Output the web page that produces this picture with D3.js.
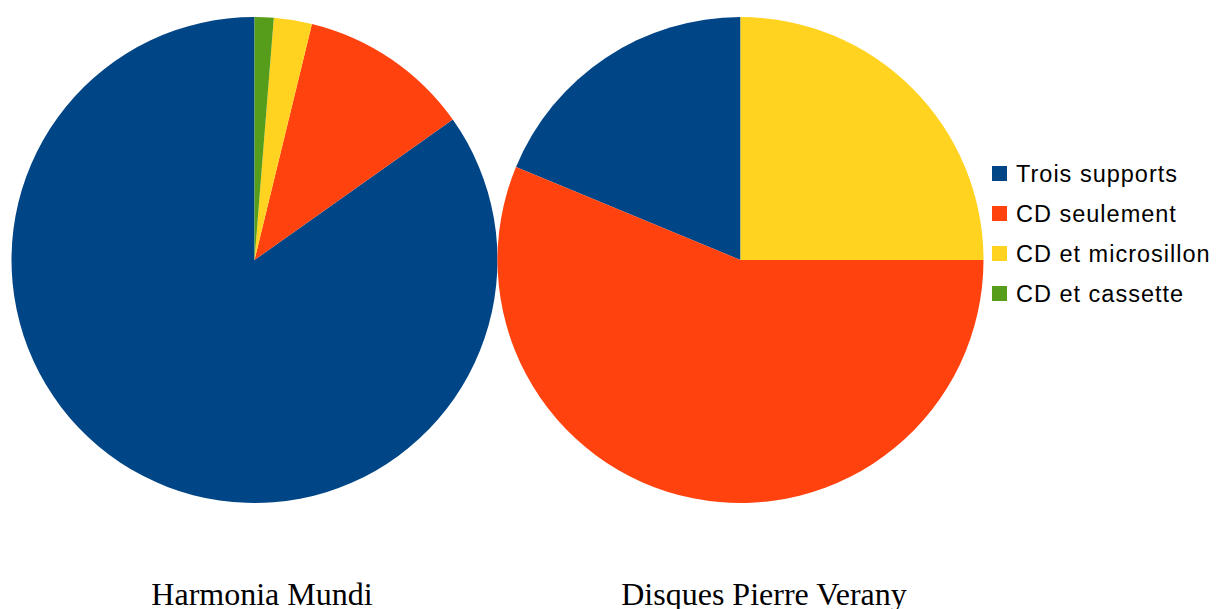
<!DOCTYPE html>
<html>
<head>
<meta charset="utf-8">
<script src="https://cdn.jsdelivr.net/npm/d3@7"></script>
<style>
  body { margin: 0; background: #fff; }
  .title { font-family: "Liberation Serif", "Times New Roman", serif; font-size: 32px; fill: #000; }
  .legend text { font-family: "Liberation Sans", Arial, sans-serif; font-size: 23.5px; letter-spacing: 1px; fill: #000; }
</style>
</head>
<body>
<svg></svg>
<script>
const categories = ["Trois supports", "CD seulement", "CD et microsillon", "CD et cassette"]
const colors = ["#004586", "#ff420e", "#ffd320", "#579d1c"]
const labels = ["Harmonia Mundi", "Disques Pierre Verany"]
const harmoniaMundi = [67, 9, 2, 1]
const pierreVerany = [3, 9, 4, 0]

const svg = d3.select("svg").attr("width", 1216).attr("height", 609)

const colorScale = d3.scaleOrdinal().domain(categories).range(colors)

// pies are drawn counter-clockwise starting at 12 o'clock
const pie = d3.pie().sort(null).startAngle(0).endAngle(-2 * Math.PI)
const arc = d3.arc().innerRadius(0).outerRadius(243)

const pies = [
	{ name: labels[0], values: harmoniaMundi, cx: 254.5, labelX: 262 },
	{ name: labels[1], values: pierreVerany, cx: 740.5, labelX: 764 }
]

const groups = svg
	.selectAll("g.pie")
	.data(pies)
	.enter()
	.append("g")
	.attr("class", "pie")

groups
	.append("g")
	.attr("transform", d => `translate(${d.cx}, 260)`)
	.selectAll("path")
	.data(d => pie(d.values))
	.enter()
	.append("path")
	.attr("d", arc)
	.style("fill", (d, i) => colorScale(categories[i]))

groups
	.append("text")
	.attr("class", "title")
	.attr("x", d => d.labelX)
	.attr("y", 605)
	.attr("text-anchor", "middle")
	.text(d => d.name)

// legend
const legend = svg
	.append("g")
	.attr("class", "legend")
	.attr("transform", "translate(992, 174)")

const items = legend
	.selectAll("g")
	.data(categories)
	.enter()
	.append("g")
	.attr("transform", (d, i) => `translate(0, ${i * 40})`)

items
	.append("rect")
	.attr("x", 0)
	.attr("y", -8)
	.attr("width", 15)
	.attr("height", 15)
	.style("fill", d => colorScale(d))

items
	.append("text")
	.attr("x", 24)
	.attr("y", 7.5)
	.text(d => d)
</script>
</body>
</html>
